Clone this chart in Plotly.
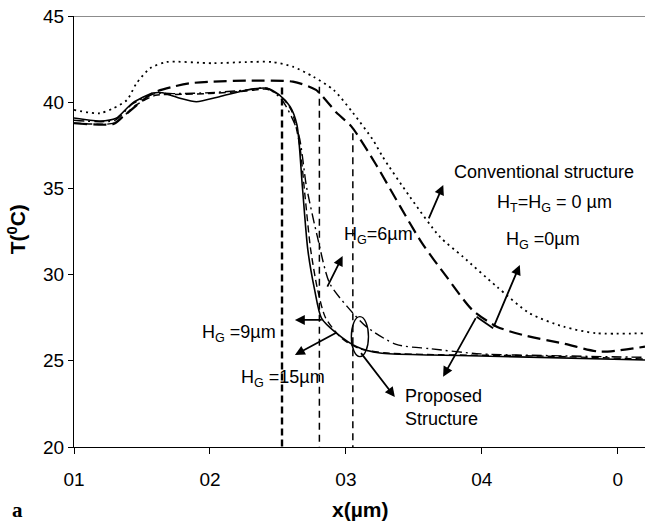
import plotly.graph_objects as go

# ---------------- data (x in axis units, T in degC) ----------------
conv_x = [1.00, 1.19, 1.29, 1.39, 1.46, 1.56, 1.68, 2.02, 2.27, 2.46, 2.61, 2.76, 2.91, 3.05, 3.20, 3.27,
          3.47, 3.69, 3.86, 4.11, 4.35, 4.60, 4.84, 5.20]
conv_y = [39.55, 39.36, 39.65, 40.13, 41.1, 41.97, 42.33, 42.26, 42.33, 42.33, 42.06, 41.48, 40.71, 39.4, 37.8, 36.84,
          34.52, 32.2, 31.04, 29.3, 27.76, 26.98, 26.6, 26.6]

hg0_x = [1.00, 1.29, 1.36, 1.58, 1.73, 1.85, 2.02, 2.27, 2.61, 2.78, 2.93, 3.04, 3.22, 3.40, 3.56, 3.74,
         3.93, 4.11, 4.30, 4.60, 4.87, 5.20]
hg0_y = [38.78, 38.74, 39.16, 40.53, 40.9, 41.1, 41.19, 41.25, 41.19, 40.71, 39.4, 38.6, 36.4, 33.94, 31.82, 29.88,
         27.95, 26.98, 26.5, 26.0, 25.53, 25.82]

hg6_x = [1.00, 1.30, 1.43, 1.60, 1.75, 2.00, 2.27, 2.42, 2.53, 2.65, 2.71, 2.79, 2.88, 3.01, 3.15, 3.37,
         3.62, 3.99, 4.50, 5.20]
hg6_y = [38.95, 38.95, 39.9, 40.5, 40.5, 40.55, 40.71, 40.81, 40.13, 38.2, 35.1, 32.2, 29.5, 28.14, 26.98, 25.95,
         25.7, 25.4, 25.3, 25.2]

hg9_x = [1.00, 1.19, 1.31, 1.43, 1.58, 1.65, 1.78, 1.90, 2.07, 2.27, 2.42, 2.51, 2.59, 2.64, 2.68, 2.72,
         2.77, 2.82, 2.93, 3.08, 3.25, 3.62, 3.99, 5.20]
hg9_y = [39.08, 38.91, 39.07, 39.95, 40.53, 40.55, 40.23, 40.03, 40.32, 40.71, 40.81, 40.42, 39.74, 38.68, 35.08, 31.43,
         29.11, 27.48, 26.61, 25.82, 25.45, 25.34, 25.28, 25.05]

hg15_x = [1.00, 1.30, 1.45, 1.60, 1.75, 2.00, 2.27, 2.42, 2.52, 2.60, 2.66, 2.70, 2.74, 2.79, 2.85, 2.97,
          3.10, 3.30, 3.70, 4.30, 5.20]
hg15_y = [38.8, 38.8, 39.8, 40.4, 40.45, 40.5, 40.65, 40.75, 40.35, 39.5, 37.5, 34.5, 31.5, 29.2, 27.5, 26.3,
          25.7, 25.45, 25.35, 25.3, 25.1]

vline_x = [2.53, 2.805, 3.051]
vline_top = [40.85, 40.9, 38.2]

tick_vals = [1, 2, 3, 4, 5]
tick_text = ["01", "02", "03", "04", "0"]
y_ticks = [20, 25, 30, 35, 40, 45]

FONT = "Arial, Liberation Sans, sans-serif"

fig = go.Figure()

def curve(x, y, dash, width):
    fig.add_trace(go.Scatter(x=x, y=y, mode="lines",
                             line=dict(color="black", dash=dash, width=width, shape="spline", smoothing=0.7),
                             showlegend=False, hoverinfo="skip"))

curve(conv_x, conv_y, "2px,4px", 1.8)
curve(hg0_x, hg0_y, "13px,6px", 2.2)
curve(hg6_x, hg6_y, "10px,4px,2px,4px", 1.4)
curve(hg15_x, hg15_y, "7px,4px", 1.4)
curve(hg9_x, hg9_y, "solid", 1.6)

# vertical markers
vl_styles = [("7px,4px", 2.4), ("7px,5px", 1.5), ("7px,5px", 1.5)]
for xv, top, (d, w) in zip(vline_x, vline_top, vl_styles):
    fig.add_trace(go.Scatter(x=[xv, xv], y=[top, 20], mode="lines",
                             line=dict(color="black", dash=d, width=w),
                             showlegend=False, hoverinfo="skip"))

# top frame line
fig.add_shape(type="line", xref="paper", yref="y", x0=0, x1=1, y0=45, y1=45,
              line=dict(color="#8c8c8c", width=2))

# ellipse
fig.add_shape(type="circle", xref="x", yref="y", x0=3.04, x1=3.166, y0=25.24, y1=27.56,
              line=dict(color="black", width=1.4))

# Z connector segment
fig.add_shape(type="line", xref="x", yref="y", x0=3.961, y0=27.56, x1=4.083, y1=26.89,
              line=dict(color="black", width=1.8))

def arrow(tx, ty, hx, hy):
    fig.add_annotation(x=hx, y=hy, ax=tx, ay=ty, xref="x", yref="y", axref="x", ayref="y",
                       text="", showarrow=True, arrowhead=2, arrowsize=1.1, arrowwidth=1.8,
                       arrowcolor="black", standoff=0, startstandoff=0)

arrow(3.605, 33.17, 3.716, 35.20)   # conventional
arrow(3.961, 27.56, 3.715, 24.08)   # Z lower
arrow(4.083, 26.89, 4.279, 30.56)   # Z upper (HG=0)
arrow(3.103, 25.53, 3.36, 22.9)     # proposed
arrow(2.858, 29.21, 2.976, 31.08)   # HG=6
arrow(2.833, 27.37, 2.625, 27.37)   # HG=9
arrow(2.943, 26.69, 2.625, 25.34)   # HG=15

def label(x, y, t, xanchor="center"):
    fig.add_annotation(x=x, y=y, xref="x", yref="y", text=t, showarrow=False,
                       xanchor=xanchor, yanchor="middle",
                       font=dict(family=FONT, size=18, color="black"))

label(4.456, 35.95, "Conventional structure")
label(4.537, 34.15, "H<sub>T</sub>=H<sub>G</sub> = 0 µm")
label(4.449, 32.0, "H<sub>G</sub> =0µm")
label(3.243, 32.24, "H<sub>G</sub>=6µm")
label(2.213, 26.61, "H<sub>G</sub> =9µm")
label(2.537, 24.0, "H<sub>G</sub> =15µm")
fig.add_annotation(x=3.419, y=22.29, xref="x", yref="y", text="Proposed<br>Structure",
                   showarrow=False, xanchor="left", yanchor="middle", align="left",
                   font=dict(family=FONT, size=18, color="black"))

# axis titles and panel letter
fig.add_annotation(x=-0.0998, y=0.505, xref="paper", yref="paper", text="<b>T(<sup>0</sup>C)</b>",
                   textangle=-90, showarrow=False, xanchor="center", yanchor="middle",
                   font=dict(family=FONT, size=21, color="black"))
fig.add_annotation(x=0.5, y=-0.144, xref="paper", yref="paper", text="<b>x(µm)</b>",
                   showarrow=False, xanchor="center", yanchor="middle",
                   font=dict(family=FONT, size=21, color="black"))
fig.add_annotation(x=-0.0998, y=-0.146, xref="paper", yref="paper", text="<b>a</b>",
                   showarrow=False, xanchor="center", yanchor="middle",
                   font=dict(family="Liberation Serif, Times New Roman, serif", size=21, color="black"))

fig.update_layout(
    width=645, height=523,
    margin=dict(l=74, r=0, t=16, b=76),
    paper_bgcolor="white", plot_bgcolor="white",
    showlegend=False,
    font=dict(family=FONT, size=19, color="black"),
    xaxis=dict(range=[1, 5.2], tickmode="array", tickvals=tick_vals, ticktext=tick_text,
               showgrid=False, zeroline=False, showline=True, linecolor="black", linewidth=1.2,
               ticks="outside", ticklen=6, tickcolor="black", tickwidth=1.2, ticklabelstandoff=9,
               tickfont=dict(family=FONT, size=19)),
    yaxis=dict(range=[20, 45], tickmode="array", tickvals=y_ticks,
               showgrid=False, zeroline=False, showline=True, linecolor="black", linewidth=1.2,
               ticks="outside", ticklen=5, tickcolor="black", tickwidth=1.2,
               tickfont=dict(family=FONT, size=19)),
)

fig.write_html("out.html", config={"displayModeBar": False},
               post_script="document.body.style.margin='0px';document.body.style.overflow='hidden';")
